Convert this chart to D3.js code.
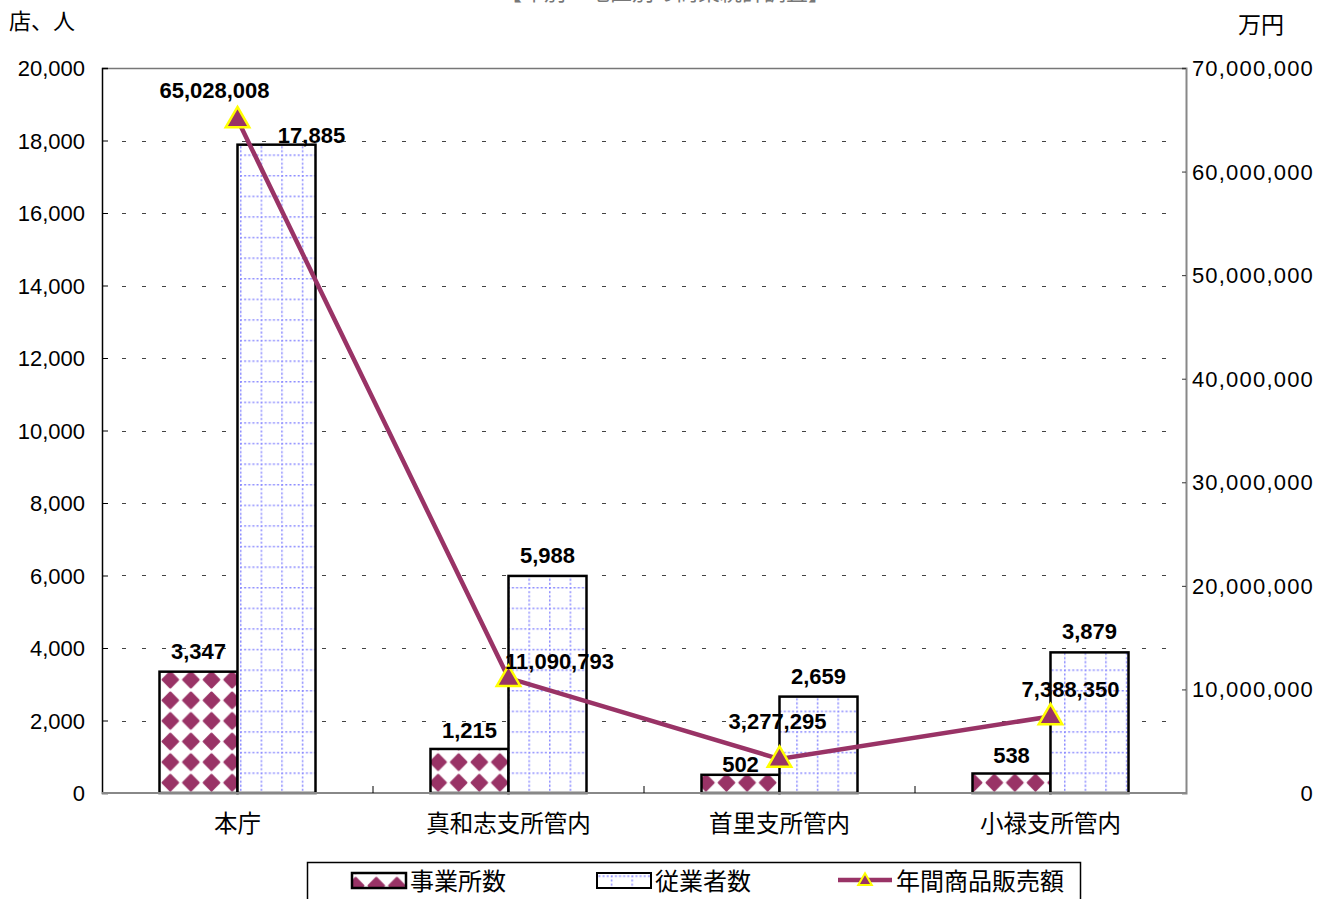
<!DOCTYPE html>
<html>
<head>
<meta charset="utf-8">
<script src="https://cdn.jsdelivr.net/npm/d3@7"></script>
<style>
  body { margin: 0; background: #fff; }
  text { font-family: "Liberation Sans", Arial, sans-serif; }
  .jp { font-family: "Noto Sans CJK JP", sans-serif; }
</style>
</head>
<body>
<script>
var categories = ["本庁", "真和志支所管内", "首里支所管内", "小禄支所管内"];
var offices = [3347, 1215, 502, 538];          // 事業所数
var workers = [17885, 5988, 2659, 3879];       // 従業者数
var sales = [65028008, 11090793, 3277295, 7388350]; // 年間商品販売額 (万円)
var leftTicks = [0, 2000, 4000, 6000, 8000, 10000, 12000, 14000, 16000, 18000, 20000];
var rightTicks = [0, 10000000, 20000000, 30000000, 40000000, 50000000, 60000000, 70000000];
var seriesNames = ["事業所数", "従業者数", "年間商品販売額"];

// label nudges (as placed in the original)
var salesLabelDx = [-23, 51, -2, 20];
var salesLabelDy = [-21, -9, -30, -19];
var officesLabelDy = [-13, -11, -3, -10];
var workersLabelDx = [35, 0, 0, 0];
var workersLabelDy = [-2, -13, -13, -13];

var W = 1327, H = 899;
var plot = {left: 102, right: 1186, top: 68, bottom: 793};
var barW = 78;
var lineColor = "#993366";

var svg = d3.select("body").append("svg")
  .attr("width", W).attr("height", H);

var defs = svg.append("defs");
var p1 = defs.append("pattern").attr("id", "diam")
  .attr("patternUnits", "userSpaceOnUse")
  .attr("width", 20.6).attr("height", 20.6)
  .attr("x", 160).attr("y", 793);
p1.append("rect").attr("width", 20.6).attr("height", 20.6).attr("fill", "#fff");
p1.append("path").attr("d", "M10.3,2.6 L18,10.3 L10.3,18 L2.6,10.3Z")
  .attr("fill", lineColor).attr("stroke", lineColor)
  .attr("stroke-width", 2.2).attr("stroke-linejoin", "round");

var p2 = defs.append("pattern").attr("id", "grid")
  .attr("patternUnits", "userSpaceOnUse")
  .attr("width", 20.6).attr("height", 20.6)
  .attr("x", 240).attr("y", 793);
p2.append("rect").attr("width", 20.6).attr("height", 20.6).attr("fill", "#fff");
p2.append("line").attr("x1", 0).attr("x2", 20.6).attr("y1", 0.5).attr("y2", 0.5)
  .attr("stroke", "#8c8cff").attr("stroke-width", 2).attr("stroke-dasharray", "2,2.12");
p2.append("line").attr("y1", 0).attr("y2", 20.6).attr("x1", 0.5).attr("x2", 0.5)
  .attr("stroke", "#8c8cff").attr("stroke-width", 2).attr("stroke-dasharray", "2,2.12");

var x = d3.scaleBand().domain(categories).range([plot.left, plot.right]);
var yL = d3.scaleLinear().domain([0, 20000]).range([plot.bottom, plot.top]);
var yR = d3.scaleLinear().domain([0, 70000000]).range([plot.bottom, plot.top]);
var cx = function(c) { return x(c) + x.bandwidth() / 2; };
var fmt = d3.format(",");

// title (cut off at top)
svg.append("text").attr("class", "jp")
  .attr("x", 665).attr("y", 0)
  .attr("text-anchor", "middle")
  .attr("font-size", 22).attr("fill", "#777")
  .text("【年別・地区別の商業統計調査】");

// gridlines
svg.append("g").selectAll("line")
  .data(leftTicks.slice(1, -1))
  .enter().append("line")
  .attr("x1", plot.left + 6).attr("x2", plot.right - 4)
  .attr("y1", function(d) { return Math.round(yL(d)) + 0.5; })
  .attr("y2", function(d) { return Math.round(yL(d)) + 0.5; })
  .attr("stroke", "#444").attr("stroke-width", 1.2)
  .attr("stroke-dasharray", "4,16").attr("stroke-dashoffset", -14);

// frame top
svg.append("line").attr("x1", plot.left).attr("x2", plot.right)
  .attr("y1", plot.top + 0.5).attr("y2", plot.top + 0.5)
  .attr("stroke", "#777").attr("stroke-width", 1.5);

// left axis
var axL = svg.append("g").attr("transform", "translate(" + plot.left + ",0)")
  .call(d3.axisRight(yL).tickValues(leftTicks).tickSize(6).tickFormat(function() { return ""; }));
axL.select(".domain").attr("stroke", "#000").attr("stroke-width", 1.5);
axL.selectAll(".tick line").attr("stroke", "#000");
svg.append("g").selectAll("text")
  .data(leftTicks).enter().append("text")
  .attr("x", 85).attr("y", function(d) { return yL(d) + 8; })
  .attr("text-anchor", "end").attr("font-size", 22)
  .text(function(d) { return fmt(d); });

// right axis
var axR = svg.append("g").attr("transform", "translate(" + plot.right + ",0)")
  .call(d3.axisLeft(yR).tickValues(rightTicks).tickSize(4).tickFormat(function() { return ""; }));
axR.select(".domain").attr("stroke", "#888").attr("stroke-width", 2);
axR.selectAll(".tick line").attr("stroke", "#333");
svg.append("g").selectAll("text")
  .data(rightTicks).enter().append("text")
  .attr("x", 1314).attr("y", function(d) { return yR(d) + 8; })
  .attr("text-anchor", "end").attr("font-size", 22).attr("letter-spacing", 1.2)
  .text(function(d) { return fmt(d); });

// axis titles
svg.append("text").attr("class", "jp").attr("x", 9).attr("y", 29)
  .attr("font-size", 22).text("店、人");
svg.append("text").attr("class", "jp").attr("x", 1238).attr("y", 33)
  .attr("font-size", 23).text("万円");

// bars
var g1 = svg.append("g");
g1.selectAll("rect").data(categories).enter().append("rect")
  .attr("x", function(c) { return cx(c) - barW; })
  .attr("y", function(c, i) { return yL(offices[i]); })
  .attr("width", barW)
  .attr("height", function(c, i) { return plot.bottom - yL(offices[i]); })
  .attr("fill", "url(#diam)").attr("stroke", "#000").attr("stroke-width", 2.5);
var g2 = svg.append("g");
g2.selectAll("rect").data(categories).enter().append("rect")
  .attr("x", function(c) { return cx(c); })
  .attr("y", function(c, i) { return yL(workers[i]); })
  .attr("width", barW)
  .attr("height", function(c, i) { return plot.bottom - yL(workers[i]); })
  .attr("fill", "url(#grid)").attr("stroke", "#000").attr("stroke-width", 2.5);

// x axis
svg.append("line").attr("x1", plot.left).attr("x2", plot.right)
  .attr("y1", plot.bottom).attr("y2", plot.bottom)
  .attr("stroke", "#888").attr("stroke-width", 2);
svg.append("g").selectAll("line")
  .data(categories.slice(1)).enter().append("line")
  .attr("x1", function(c) { return x(c); }).attr("x2", function(c) { return x(c); })
  .attr("y1", plot.bottom - 7).attr("y2", plot.bottom)
  .attr("stroke", "#000").attr("stroke-width", 1);
svg.append("g").selectAll("text")
  .data(categories).enter().append("text").attr("class", "jp")
  .attr("x", function(c) { return cx(c); }).attr("y", 832)
  .attr("text-anchor", "middle").attr("font-size", 23.5)
  .text(function(c) { return c; });

// bar labels
svg.append("g").selectAll("text")
  .data(categories).enter().append("text")
  .attr("x", function(c) { return cx(c) - barW / 2; })
  .attr("y", function(c, i) { return yL(offices[i]) + officesLabelDy[i]; })
  .attr("text-anchor", "middle").attr("font-size", 22).attr("font-weight", "bold")
  .text(function(c, i) { return fmt(offices[i]); });
svg.append("g").selectAll("text")
  .data(categories).enter().append("text")
  .attr("x", function(c, i) { return cx(c) + barW / 2 + workersLabelDx[i]; })
  .attr("y", function(c, i) { return yL(workers[i]) + workersLabelDy[i]; })
  .attr("text-anchor", "middle").attr("font-size", 22).attr("font-weight", "bold")
  .text(function(c, i) { return fmt(workers[i]); });

// line
var line = d3.line()
  .x(function(d, i) { return cx(categories[i]); })
  .y(function(d) { return yR(d); });
svg.append("path").datum(sales)
  .attr("d", line).attr("fill", "none")
  .attr("stroke", lineColor).attr("stroke-width", 4.5);

var tri = d3.symbol().type(d3.symbolTriangle).size(240);
svg.append("g").selectAll("path")
  .data(sales).enter().append("path")
  .attr("d", tri)
  .attr("transform", function(d, i) { return "translate(" + cx(categories[i]) + "," + (yR(d) + 1) + ")"; })
  .attr("fill", lineColor).attr("stroke", "#ffff00").attr("stroke-width", 2.5);

svg.append("g").selectAll("text")
  .data(sales).enter().append("text")
  .attr("x", function(d, i) { return cx(categories[i]) + salesLabelDx[i]; })
  .attr("y", function(d, i) { return yR(d) + salesLabelDy[i]; })
  .attr("text-anchor", "middle").attr("font-size", 22).attr("font-weight", "bold")
  .text(function(d) { return fmt(d); });

// legend
var lg = svg.append("g");
lg.append("rect").attr("x", 307.5).attr("y", 862.5).attr("width", 773).attr("height", 50)
  .attr("fill", "#fff").attr("stroke", "#000").attr("stroke-width", 1.5);
var lx = [352, 597, 838];
lg.append("rect").attr("x", lx[0]).attr("y", 873).attr("width", 54).attr("height", 15)
  .attr("fill", "url(#diam)").attr("stroke", "#000").attr("stroke-width", 2.5);
lg.append("rect").attr("x", lx[1]).attr("y", 873).attr("width", 54).attr("height", 15)
  .attr("fill", "url(#grid)").attr("stroke", "#000").attr("stroke-width", 2);
lg.append("line").attr("x1", lx[2]).attr("x2", lx[2] + 54).attr("y1", 880).attr("y2", 880)
  .attr("stroke", lineColor).attr("stroke-width", 4.5);
lg.append("path").attr("d", d3.symbol().type(d3.symbolTriangle).size(80))
  .attr("transform", "translate(" + (lx[2] + 27) + ",881)")
  .attr("fill", lineColor).attr("stroke", "#ffff00").attr("stroke-width", 2);
lg.selectAll("text.lab").data(seriesNames).enter().append("text")
  .attr("class", "jp")
  .attr("x", function(d, i) { return lx[i] + 58; }).attr("y", 890)
  .attr("font-size", 24)
  .text(function(d) { return d; });
</script>
</body>
</html>
